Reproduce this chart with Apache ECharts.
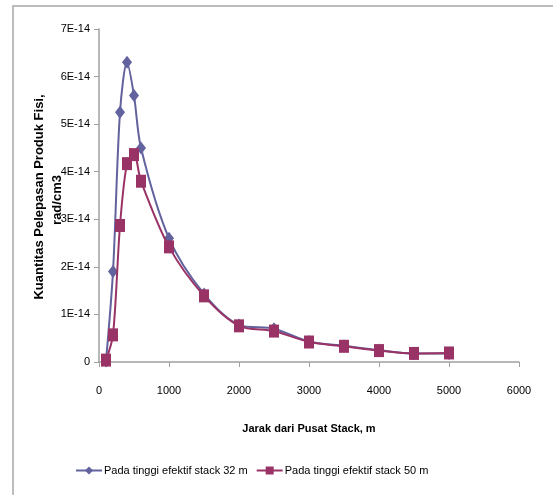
<!DOCTYPE html>
<html>
<head>
<meta charset="utf-8">
<script src="https://cdn.jsdelivr.net/npm/echarts@6/dist/echarts.min.js"></script>
<style>
html,body{margin:0;padding:0;background:#fff;}
#c{width:553px;height:495px;}
</style>
</head>
<body>
<div id="c"></div>
<script>
var xValues = [100, 200, 300, 400, 500, 600, 1000, 1500, 2000, 2500, 3000, 3500, 4000, 4500, 5000];
var series32 = [0.02e-14, 1.9e-14, 5.25e-14, 6.3e-14, 5.6e-14, 4.5e-14, 2.6e-14, 1.43e-14, 0.78e-14, 0.7e-14, 0.43e-14, 0.34e-14, 0.25e-14, 0.18e-14, 0.18e-14];
var series50 = [0.04e-14, 0.57e-14, 2.87e-14, 4.17e-14, 4.36e-14, 3.8e-14, 2.42e-14, 1.39e-14, 0.76e-14, 0.65e-14, 0.42e-14, 0.33e-14, 0.24e-14, 0.18e-14, 0.19e-14];
var seriesNames = ['Pada tinggi efektif stack 32 m', 'Pada tinggi efektif stack 50 m'];
var xTitle = 'Jarak dari Pusat Stack, m';
var yTitle1 = 'Kuantitas Pelepasan Produk Fisi,';
var yTitle2 = 'rad/cm3';

function pairs(xs, ys){ return xs.map(function(x,i){ return [x, ys[i]]; }); }

var FONT = "'Liberation Sans Narrow','Liberation Sans',sans-serif";
var chart = echarts.init(document.getElementById('c'), null, {renderer:'canvas'});
chart.setOption({
  animation:false,
  backgroundColor:'#fff',
  textStyle:{fontFamily:FONT},
  grid:{left:99, top:29, right:34, bottom:133, containLabel:false},
  xAxis:{
    type:'value', min:0, max:6000, interval:1000,
    name:xTitle, nameLocation:'middle', nameGap:61,
    nameTextStyle:{fontFamily:FONT, fontWeight:'bold', fontSize:11, color:'#000'},
    axisLine:{show:true, onZero:false, lineStyle:{color:'#a0a0a0', width:1.5}},
    axisTick:{show:true, inside:false, length:5, lineStyle:{color:'#a0a0a0'}},
    axisLabel:{color:'#000', fontSize:11, margin:23, fontFamily:FONT,
      formatter:function(v){ return String(Math.round(v)); }},
    splitLine:{show:false}
  },
  yAxis:{
    type:'value', min:0, max:7e-14, interval:1e-14,
    axisLine:{show:true, lineStyle:{color:'#a0a0a0', width:1.5}},
    axisTick:{show:true, inside:false, length:5, lineStyle:{color:'#a0a0a0'}},
    axisLabel:{color:'#000', fontSize:11, margin:9, fontFamily:FONT,
      formatter:function(v){ var n=Math.round(v*1e14); return n===0?'0':(n+'E-14'); }},
    splitLine:{show:false}
  },
  legend:{
    left:70, top:460, itemGap:8, itemWidth:26, itemHeight:10,
    textStyle:{fontFamily:FONT, fontSize:11, color:'#000', padding:[0,0,0,-3]},
    data:seriesNames
  },
  graphic:[
    {type:'rect', shape:{x:13, y:6, width:600, height:600}, style:{fill:'none', stroke:'#a8a8a8', lineWidth:1.5}, silent:true, z:-1},
    {type:'text', x:39, y:197, rotation:Math.PI/2, style:{text:yTitle1, fontFamily:FONT, fontWeight:'bold', fontSize:13, fill:'#000', align:'center', verticalAlign:'middle'}},
    {type:'text', x:57, y:200, rotation:Math.PI/2, style:{text:yTitle2, fontFamily:FONT, fontWeight:'bold', fontSize:13, fill:'#000', align:'center', verticalAlign:'middle'}}
  ],
  series:[
    {name:seriesNames[0], type:'line', data:pairs(xValues, series32), smooth:0.3,
     symbol:'diamond', symbolSize:[10,13], showAllSymbol:true,
     lineStyle:{color:'#62629e', width:2}, itemStyle:{color:'#62629e'}, z:2},
    {name:seriesNames[1], type:'line', data:pairs(xValues, series50), smooth:0.3,
     symbol:'rect', symbolSize:[10,13], showAllSymbol:true,
     lineStyle:{color:'#993366', width:2}, itemStyle:{color:'#993366'}, z:3}
  ]
});
</script>
</body>
</html>
